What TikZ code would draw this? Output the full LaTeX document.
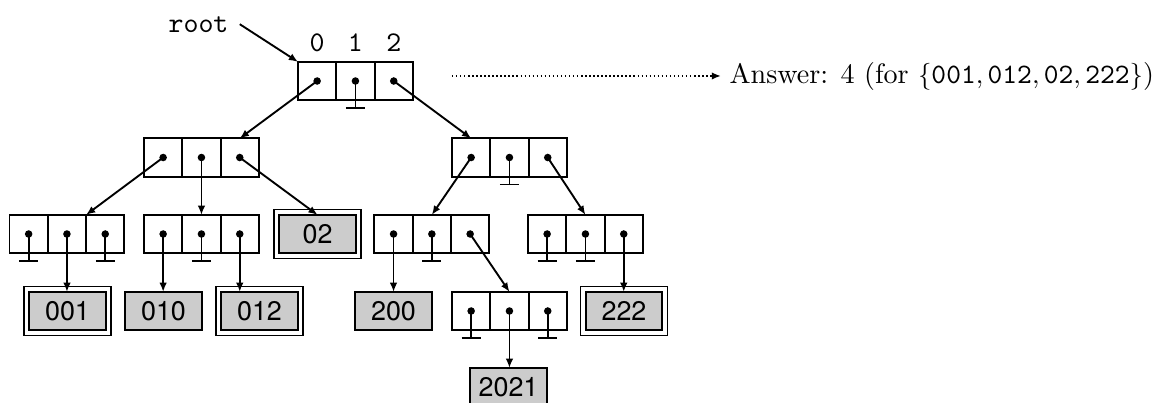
\documentclass[tikz,border=0pt]{standalone}
\usepackage{fontspec}
\newfontfamily\leaffont{TeX Gyre Heros}
\usetikzlibrary{arrows.meta}
\definecolor{leafgray}{RGB}{204,204,204}

% one trie node: three pointer cells side by side
% #1 name prefix, #2 left edge, #3 vertical centre
\newcommand\trienode[3]{%
  \foreach \k in {0,1,2}{\node[cell] (#1\k) at ({#2+19.15+38.3*\k},#3) {};}}

\tikzset{
  cell/.style={draw, line width=0.7pt, minimum size=0.5cm, inner sep=0pt, outer sep=0pt},
  leaf/.style={draw, line width=0.7pt, fill=leafgray, minimum width=1cm, minimum height=0.5cm,
               inner sep=0pt, outer sep=0pt, font=\leaffont\fontsize{10}{12}\selectfont},
  ptr/.style={line width=0.7pt, -{Latex[length=3.4pt,width=2.8pt]}},
  nilptr/.style={line width=0.7pt},
  frame/.style={line width=0.6pt},
  answerarrow/.style={line width=0.7pt, dash pattern=on 0.55pt off 0.95pt,
                      -{Latex[length=3.4pt,width=2.8pt]},
                      shorten <=14.5pt, shorten >=3pt},
  ttlabel/.style={inner sep=0pt, font=\ttfamily\fontsize{10.6}{12}\selectfont},
}

\begin{document}
\begin{tikzpicture}[x=0.3717pt, y=-0.3717pt]
\clip (0,0) rectangle (1161,402);

% internal nodes
\trienode{r}{298}{81}
\trienode{lA}{144}{157.5}
\trienode{rA}{452}{157.5}
\trienode{lB}{9.5}{234}
\trienode{lC}{144}{234}
\trienode{rB}{374.4}{234}
\trienode{rC}{528}{234}
\trienode{rD}{452}{311}

% leaves
\node[leaf] (l02)   at (317.5,234) {02};
\node[leaf] (l001)  at (67.5,311)  {001};
\node[leaf] (l010)  at (163.5,311) {010};
\node[leaf] (l012)  at (259.5,311) {012};
\node[leaf] (l200)  at (393.5,311) {200};
\node[leaf] (l222)  at (624,311)   {222};
\node[leaf] (l2021) at (508.5,387) {2021};

% second frame round the strings that are counted
\foreach \n in {l02,l001,l012,l222}
  \draw[frame] ([shift={(-2pt,-2pt)}]\n.south west) rectangle ([shift={(2pt,2pt)}]\n.north east);

% digit labels over the root cells
\foreach \k in {0,1,2}
  \node[ttlabel, anchor=south] (dig\k) at ([yshift=3.7pt]r\k.north) {\k};

% root label
\node[ttlabel, anchor=base east] (rootlbl) at (229,32) {root};
\draw[ptr] ([xshift=4pt]rootlbl.east) -- (r0.north west);

% dots in every cell
\foreach \n in {r,lA,rA,lB,lC,rB,rC,rD}
  \foreach \k in {0,1,2}
    \fill (\n\k.center) circle[radius=1.4pt];

% null pointers
\foreach \c in {r1,lB0,lB2,lC1,rA1,rB1,rC0,rC1,rD0,rD2}
  \draw[nilptr] (\c.center) -- ++(0,27) +(-9.5,0) -- +(9.5,0);

% child pointers
\draw[ptr] (r0.center)  -- (lA2.north);
\draw[ptr] (r2.center)  -- (rA0.north);
\draw[ptr] (lA0.center) -- (lB1.north east);
\draw[ptr] (lA1.center) -- (lC1.north);
\draw[ptr] (lA2.center) -- (l02.north);
\draw[ptr] (lB1.center) -- (lB1.center |- l001.north);
\draw[ptr] (lC0.center) -- (lC0.center |- l010.north);
\draw[ptr] (lC2.center) -- (lC2.center |- l012.north);
\draw[ptr] (rA0.center) -- (rB1.north);
\draw[ptr] (rA2.center) -- (rC1.north);
\draw[ptr] (rB0.center) -- (rB0.center |- l200.north);
\draw[ptr] (rB2.center) -- (rD1.north);
\draw[ptr] (rC2.center) -- (rC2.center |- l222.north);
\draw[ptr] (rD1.center) -- (rD1.center |- l2021.north);

% result
\node[inner sep=0pt, anchor=base west, font=\fontsize{10.45}{12}\selectfont] (ans) at (729,83)
  {Answer: 4 (for $\{\texttt{001},\texttt{012},\texttt{02},\texttt{222}\}$)};
\draw[answerarrow] (r2.east |- ans.west) -- (ans.west);
\end{tikzpicture}
\end{document}
